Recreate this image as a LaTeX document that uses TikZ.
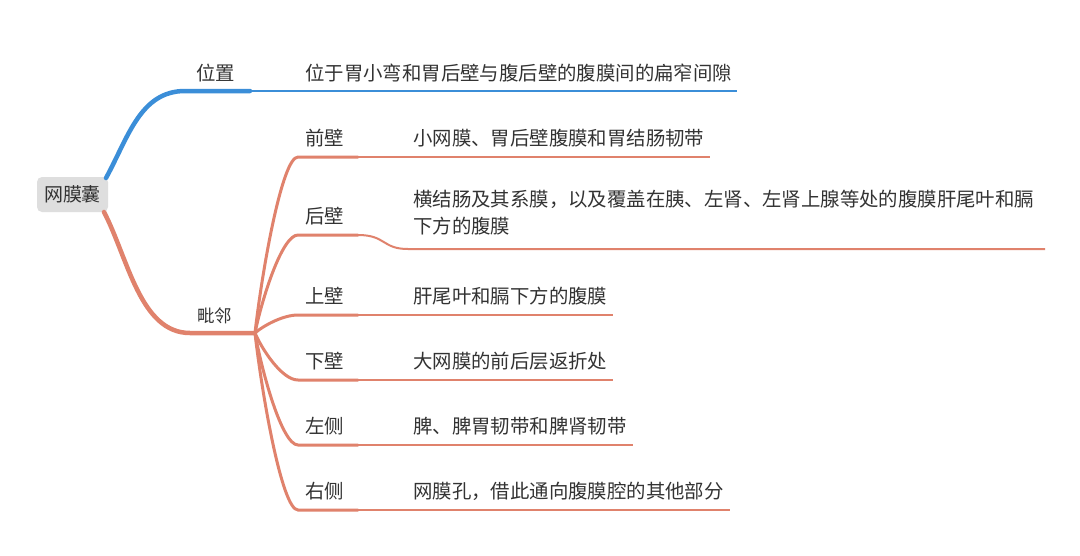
\documentclass[tikz,border=0pt]{standalone}
\usepackage{fontspec}
\setmainfont{Noto Sans CJK SC}
\usetikzlibrary{positioning}
\definecolor{bl}{HTML}{3B8ED8}
\definecolor{orn}{HTML}{E0826C}
\definecolor{txt}{HTML}{333333}
\tikzset{
  lbl/.style={anchor=west, inner sep=0pt, text=txt, font=\fontsize{19.4}{24}\selectfont},
  rootbox/.style={fill=black!13, rounded corners=5pt, minimum width=71pt, minimum height=35pt, inner sep=0pt, text=txt, font=\fontsize{19}{24}\selectfont},
  mainb/.style={line width=4.5pt, line cap=round},
  subb/.style={line width=3pt, line cap=round},
  thinb/.style={line width=2pt},
}
\begin{document}
\begin{tikzpicture}[x=1pt,y=-1pt]
\useasboundingbox (0,0) rectangle (1080,555);
\fill[white] (0,0) rectangle (1080,555);
% root
\node[rootbox] (root) at (72.5,194.5) {网膜囊};
% coordinates
\coordinate (rootT) at (106,178);
\coordinate (rootB) at (104,212);
\coordinate (posS) at (185,91);
\coordinate (posM) at (250,91);
\coordinate (posE) at (737,91);
\coordinate (adjS) at (190,333);
\coordinate (fan) at (255,333);
% blue branch
\draw[bl, mainb] (rootT) .. controls (128,138) and (140,91) .. (posS) -- (posM);
\draw[bl, thinb] (posM) -- (posE);
\node[lbl] (pos) at (196,73) {位置};
\node[lbl] (posd) at (305,73) {位于胃小弯和胃后壁与腹后壁的腹膜间的扁窄间隙};
% orange branch
\draw[orn, mainb] (rootB) .. controls (128,258) and (140,333) .. (adjS) -- (fan);
\node[lbl, font=\fontsize{17.5}{22}\selectfont] (adj) at (197,316) {毗邻};
% children
\foreach \nm/\y/\e/\lab/\desc in {
  c1/157/710/前壁/小网膜、胃后壁腹膜和胃结肠韧带,
  c2/235/358/后壁/{},
  c3/315/613/上壁/肝尾叶和膈下方的腹膜,
  c4/380/613/下壁/大网膜的前后层返折处,
  c5/445/633/左侧/脾、脾胃韧带和脾肾韧带,
  c6/510/730/右侧/网膜孔，借此通向腹膜腔的其他部分}{
  \coordinate (\nm s) at (298,\y);
  \coordinate (\nm m) at (358,\y);
  \coordinate (\nm e) at (\e,\y);
  \draw[orn, subb] (fan) .. controls (262,{333+0.35*(\y-333)}) and (282,\y) .. (\nm s) -- (\nm m);
  \draw[orn, thinb] (\nm m) -- (\nm e);
  \node[lbl] (\nm l) at (305,\y-19) {\lab};
  \node[lbl] (\nm d) at (413,\y-19) {\desc};
}
% posterior wall continuation
\coordinate (c2k) at (408,249);
\coordinate (c2f) at (1045,249);
\draw[orn, thinb] (c2m) .. controls (386,235) and (382,249) .. (c2k) -- (c2f);
\node[lbl, align=left, font=\fontsize{19.4}{27}\selectfont, anchor=north west] (c2x) at (413,190) {横结肠及其系膜，以及覆盖在胰、左肾、左肾上腺等处的腹膜肝尾叶和膈\\下方的腹膜};
\end{tikzpicture}
\end{document}
